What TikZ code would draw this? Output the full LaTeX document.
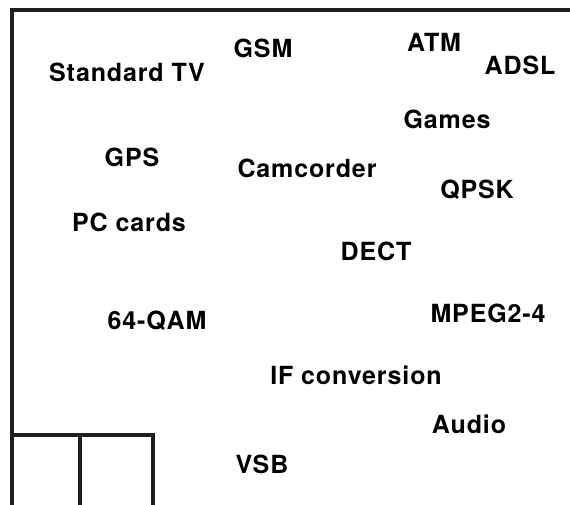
\documentclass[tikz,border=0pt]{standalone}
\usepackage{fontspec}
\setmainfont{TeX Gyre Heros}
\newfontfamily\lblfont[LetterSpace=3.5]{TeX Gyre Heros}
\begin{document}
\begin{tikzpicture}[x=1pt,y=-1pt,
  lbl/.style={font=\lblfont\bfseries\fontsize{25}{29}\selectfont, inner sep=0pt, anchor=center},
  frame/.style={line width=3.4pt, black!88}]
\useasboundingbox (0,0) rectangle (570,505);
\coordinate (tl) at (12,10);
\coordinate (tr) at (572,10);
\coordinate (bl) at (12,507);
\draw[frame] (tr) -- (tl) -- (bl);
\coordinate (b1) at (12,435);
\coordinate (b2) at (80,435);
\coordinate (b3) at (153,435);
\coordinate (b2d) at (80,507);
\coordinate (b3d) at (153,507);
\draw[frame] (b1) -- (b3) -- (b3d);
\draw[frame] (b2) -- (b2d);
\node[lbl] (stv) at (127,72) {Standard TV};
\node[lbl] (gsm) at (263,48) {GSM};
\node[lbl] (atm) at (434,42) {ATM};
\node[lbl] (adsl) at (520,65) {ADSL};
\node[lbl] (games) at (447,119) {Games};
\node[lbl] (gps) at (132,157) {GPS};
\node[lbl] (cam) at (307,168) {Camcorder};
\node[lbl] (qpsk) at (477,190) {QPSK};
\node[lbl] (pc) at (129,222) {PC cards};
\node[lbl] (dect) at (376,251) {DECT};
\node[lbl] (mpeg) at (488,313) {MPEG2-4};
\node[lbl] (qam) at (157,321) {64-QAM};
\node[lbl] (ifc) at (356,375) {IF conversion};
\node[lbl] (audio) at (469,424) {Audio};
\node[lbl] (vsb) at (262,464) {VSB};
\end{tikzpicture}
\end{document}
